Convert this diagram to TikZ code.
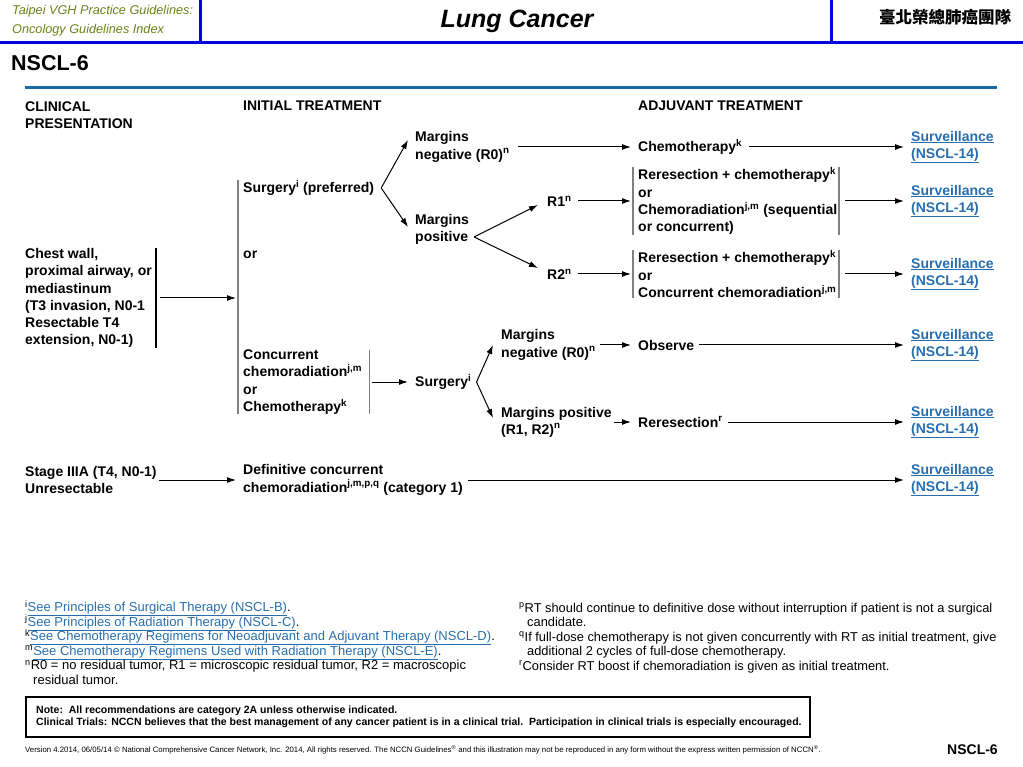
\documentclass[tikz,border=0pt]{standalone}
\usepackage{fontspec}
\setmainfont{Liberation Sans}
\newfontfamily\cjkfont{Noto Sans CJK TC}
\usetikzlibrary{arrows.meta}
\definecolor{hdrblue}{RGB}{0,0,225}
\definecolor{barblue}{RGB}{28,104,164}
\definecolor{linkblue}{RGB}{40,110,175}
\definecolor{olive}{RGB}{104,130,24}
\newcommand{\supr}[1]{\textsuperscript{#1}}
\newcommand{\flowfont}{\fontsize{14}{17.2}\selectfont\bfseries}
\newcommand{\notefont}{\fontsize{13}{14.5}\selectfont}

\begin{document}
\begin{tikzpicture}[x=1pt,y=-1pt,>={Latex[length=9pt,width=6pt]}]

\tikzset{txt/.style={font=\flowfont,align=left,inner sep=0pt,anchor=west},}
\tikzset{link/.style={txt,text=linkblue},}
\tikzset{arr/.style={->,line width=1pt},}
\tikzset{bar/.style={draw=gray,line width=1.2pt},}
\tikzset{fn/.style={font=\notefont,inner sep=0pt,anchor=base west},}

\useasboundingbox (0,0) rectangle (1023,767);

%HEADER
\draw[hdrblue,line width=3pt] (0,43) -- (1023,43);
\draw[hdrblue,line width=3pt] (200,0) -- (200,43);
\draw[hdrblue,line width=3pt] (831,0) -- (831,43);
\node[anchor=west,inner sep=0pt,align=left,text=olive,font=\fontsize{12.7}{19}\selectfont\itshape] (vgh) at (12,21) {Taipei VGH Practice Guidelines:\\Oncology Guidelines Index};
\node[inner sep=0pt,font=\fontsize{25}{30}\selectfont\bfseries\itshape] (title) at (517,21) {Lung Cancer};
\node[inner sep=0pt,font=\fontsize{16.5}{18}\selectfont\cjkfont\bfseries] (team) at (945,17) {臺北榮總肺癌團隊};
\node[anchor=west,inner sep=0pt,font=\fontsize{21.5}{24}\selectfont\bfseries] (page) at (11,63) {NSCL-6};
\draw[barblue,line width=3pt] (25,88) -- (997,88);

%COLUMN HEADS
\node[txt] (hcp) at (25,115) {CLINICAL\\PRESENTATION};
\node[txt] (hit) at (243,106) {INITIAL TREATMENT};
\node[txt] (hat) at (638,106) {ADJUVANT TREATMENT};

%CHEST WALL
\node[txt] (cw) at (25,298) {Chest wall,\\proximal airway, or\\mediastinum\\(T3 invasion, N0-1\\Resectable T4\\extension, N0-1)};
\node[txt] (surg) at (243,188) {Surgery\supr{i} (preferred)};
\node[txt] (or1) at (243,255) {or};
\node[txt] (conc) at (243,382) {Concurrent\\chemoradiation\supr{j,m}\\or\\Chemotherapy\supr{k}};

\node[txt] (mneg) at (415,147) {Margins\\negative (R0)\supr{n}};
\node[txt] (mpos) at (415,229) {Margins\\positive};
\node[txt] (r1) at (547,201) {R1\supr{n}};
\node[txt] (r2) at (547,274) {R2\supr{n}};
\node[txt] (chemo) at (638,147) {Chemotherapy\supr{k}};
\node[txt] (rr1) at (638,201) {Reresection + chemotherapy\supr{k}\\or\\Chemoradiation\supr{j,m} (sequential\\or concurrent)};
\node[txt] (rr2) at (638,274) {Reresection + chemotherapy\supr{k}\\or\\Concurrent chemoradiation\supr{j,m}};

\node[txt] (surg2) at (415,382) {Surgery\supr{i}};
\node[txt] (mneg2) at (501,345) {Margins\\negative (R0)\supr{n}};
\node[txt] (mpos2) at (501,422) {Margins positive\\(R1, R2)\supr{n}};
\node[txt] (obs) at (638,345) {Observe};
\node[txt] (rres) at (638,422) {Reresection\supr{r}};

%STAGE IIIA
\node[txt] (st) at (25,480) {Stage IIIA (T4, N0-1)\\Unresectable};
\node[txt] (dcc) at (243,480) {Definitive concurrent\\chemoradiation\supr{j,m,p,q} (category 1)};

\node[link] (sv1) at (911,147) {\underline{Surveillance}\\\underline{(NSCL-14)}};
\node[link] (sv2) at (911,201) {\underline{Surveillance}\\\underline{(NSCL-14)}};
\node[link] (sv3) at (911,274) {\underline{Surveillance}\\\underline{(NSCL-14)}};
\node[link] (sv4) at (911,345) {\underline{Surveillance}\\\underline{(NSCL-14)}};
\node[link] (sv5) at (911,422) {\underline{Surveillance}\\\underline{(NSCL-14)}};
\node[link] (sv6) at (911,480) {\underline{Surveillance}\\\underline{(NSCL-14)}};

%BARS
\draw[line width=1.2pt] ([xshift=4pt]cw.north east) -- ([xshift=4pt]cw.south east);
\draw[bar] ([xshift=-5pt]surg.north west) -- ([xshift=-5pt]conc.south west);
\draw[bar] ([xshift=7pt]conc.north east) -- ([xshift=7pt]conc.south east);
\coordinate (rb1) at ([xshift=201pt]rr1.north west);
\coordinate (rb2) at ([xshift=201pt]rr2.north west);
\draw[bar] ([xshift=-5pt]rr1.north west) -- ([xshift=-5pt]rr1.south west);
\draw[bar] (rb1) -- (rb1 |- rr1.south);
\draw[bar] ([xshift=-5pt]rr2.north west) -- ([xshift=-5pt]rr2.south west);
\draw[bar] (rb2) -- (rb2 |- rr2.south);

%ARROWS
\draw[arr,shorten >=2pt] ([xshift=8pt]cw.east) -- ([xshift=-5pt]surg.west |- cw.east);
\coordinate (sv) at ([xshift=7pt]surg.east);
\draw[arr] (sv) -- ([xshift=-7pt,yshift=7pt]mneg.west);
\draw[arr] (sv) -- ([xshift=-7pt,yshift=2pt]mpos.west);
\coordinate (mpv) at ([xshift=5pt,yshift=-8pt]mpos.east);
\draw[arr] (mpv) -- ([xshift=-9pt,yshift=-4pt]r1.west);
\draw[arr] (mpv) -- ([xshift=-9pt,yshift=6pt]r2.west);
\draw[arr] ([xshift=8pt]mneg.east) -- ([xshift=-7pt]chemo.west);
\draw[arr] ([xshift=7pt]chemo.east) -- ([xshift=-7pt]sv1.west);
\draw[arr] ([xshift=6pt]r1.east) -- ([xshift=-7pt]rr1.west);
\draw[arr] ([xshift=207pt]rr1.west) -- ([xshift=-7pt]sv2.west);
\draw[arr] ([xshift=6pt]r2.east) -- ([xshift=-7pt]rr2.west);
\draw[arr] ([xshift=207pt]rr2.west) -- ([xshift=-7pt]sv3.west);

\draw[arr] ([xshift=10pt]conc.east) -- ([xshift=-7pt]surg2.west);
\coordinate (s2v) at ([xshift=5pt]surg2.east);
\draw[arr] (s2v) -- ([xshift=-8pt]mneg2.west);
\draw[arr] (s2v) -- ([xshift=-8pt,yshift=4pt]mpos2.west);
\draw[arr] ([xshift=4pt]mneg2.east) -- ([xshift=-7pt]obs.west);
\draw[arr] ([xshift=5pt]obs.east) -- ([xshift=-7pt]sv4.west);
\draw[arr] ([xshift=2pt]mpos2.east) -- ([xshift=-7pt]rres.west);
\draw[arr] ([xshift=5pt]rres.east) -- ([xshift=-7pt]sv5.west);

\draw[arr] ([xshift=2pt]st.east) -- ([xshift=-7pt]dcc.west);
\draw[arr] ([xshift=5pt]dcc.east) -- ([xshift=-7pt]sv6.west);

%FOOTNOTES
\node[fn] (fi) at (25,611.5) {\supr{i}{\color{linkblue}\underline{See Principles of Surgical Therapy (NSCL-B)}}.};
\node[fn] (fj) at (25,626) {\supr{j}{\color{linkblue}\underline{See Principles of Radiation Therapy (NSCL-C)}}.};
\node[fn] (fk) at (25,640.5) {\supr{k}{\color{linkblue}\underline{See Chemotherapy Regimens for Neoadjuvant and Adjuvant Therapy (NSCL-D)}}.};
\node[fn] (fm) at (25,655) {\supr{m}{\color{linkblue}\underline{See Chemotherapy Regimens Used with Radiation Therapy (NSCL-E)}}.};
\node[fn] (fn1) at (25,669.5) {\supr{n}R0 = no residual tumor, R1 = microscopic residual tumor, R2 = macroscopic};
\node[fn] (fn2) at (33,684) {residual tumor.};
\node[fn,font=\fontsize{12.85}{14.5}\selectfont] (fp1) at (519,612) {\supr{p}RT should continue to definitive dose without interruption if patient is not a surgical};
\node[fn,font=\fontsize{12.85}{14.5}\selectfont] (fp2) at (527,626.5) {candidate.};
\node[fn,font=\fontsize{12.85}{14.5}\selectfont] (fq1) at (519,641) {\supr{q}If full-dose chemotherapy is not given concurrently with RT as initial treatment, give};
\node[fn,font=\fontsize{12.85}{14.5}\selectfont] (fq2) at (527,655.5) {additional 2 cycles of full-dose chemotherapy.};
\node[fn,font=\fontsize{12.85}{14.5}\selectfont] (fr) at (519,670) {\supr{r}Consider RT boost if chemoradiation is given as initial treatment.};

%NOTE BOX
\node[draw,line width=1.5pt,anchor=north west,minimum width=784pt,minimum height=40pt,inner sep=0pt] (nbox) at (25,696) {};
\node[anchor=west,inner sep=0pt,align=left,font=\fontsize{10.5}{12.5}\selectfont\bfseries] (ntext) at ([xshift=11pt]nbox.west) {Note:\ \ All recommendations are category 2A unless otherwise indicated.\\Clinical Trials: NCCN believes that the best management of any cancer patient is in a clinical trial.\ \ Participation in clinical trials is especially encouraged.};

\node[anchor=west,inner sep=0pt,font=\fontsize{7.8}{9}\selectfont] (ver) at (25,750) {Version 4.2014, 06/05/14 \textcopyright\ National Comprehensive Cancer Network, Inc. 2014, All rights reserved. The NCCN Guidelines\textsuperscript{\textregistered} and this illustration may not be reproduced in any form without the express written permission of NCCN\textsuperscript{\textregistered}.};
\node[anchor=west,inner sep=0pt,font=\fontsize{14}{16}\selectfont\bfseries] (page2) at (947,750) {NSCL-6};

\end{tikzpicture}
\end{document}
